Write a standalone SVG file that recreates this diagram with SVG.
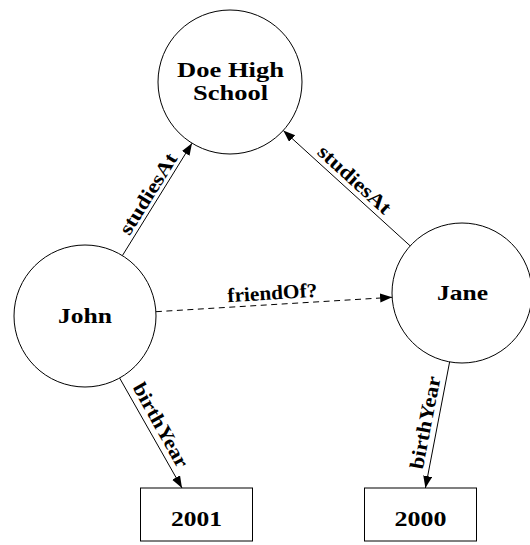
<svg xmlns="http://www.w3.org/2000/svg" width="530" height="545" viewBox="0 0 530 545">
<defs>
<style>
.node{fill:#fff;stroke:#000;stroke-width:1}
.nt{font-family:"Liberation Serif","Times New Roman",serif;font-weight:bold;font-size:22px;fill:#000;text-anchor:middle}
.et{font-family:"Liberation Serif","Times New Roman",serif;font-weight:bold;font-size:20px;fill:#000;text-anchor:middle}
.edge{fill:none;stroke:#000;stroke-width:1;marker-end:url(#arr)}
.dash{stroke-dasharray:6 4.5}
</style>
<marker id="arr" markerUnits="userSpaceOnUse" markerWidth="13" markerHeight="10" refX="12" refY="4.5" orient="auto">
<path d="M0,0 L12,4.5 L0,9 z" fill="#000"/>
</marker>
</defs>
<rect width="530" height="545" fill="#fff"/>
<g id="connectors">
<line class="edge" x1="122.4" y1="255.6" x2="192" y2="143.2"/>
<line class="edge" x1="410.2" y1="245.9" x2="283.3" y2="130.5"/>
<line class="edge dash" x1="155.9" y1="311.7" x2="392.1" y2="297.3"/>
<line class="edge" x1="119.6" y1="378" x2="182" y2="488"/>
<line class="edge" x1="449.6" y1="362" x2="425.4" y2="488"/>
<text class="et" transform="translate(157.2,199.4) rotate(-58.2)" x="0" y="-4" textLength="92" lengthAdjust="spacingAndGlyphs">studiesAt</text>
<text class="et" transform="translate(346.8,188.2) rotate(42.3)" x="0" y="-5" textLength="92" lengthAdjust="spacingAndGlyphs">studiesAt</text>
<text class="et" transform="translate(273,304.5) rotate(-3.5)" x="0" y="-5" textLength="90" lengthAdjust="spacingAndGlyphs">friendOf?</text>
<text class="et" transform="translate(150.8,433) rotate(60.8)" x="-2" y="-6" textLength="94" lengthAdjust="spacingAndGlyphs">birthYear</text>
<text class="et" transform="translate(437.5,425) rotate(-79)" x="0" y="-6" textLength="94" lengthAdjust="spacingAndGlyphs">birthYear</text>
</g>
<g id="doe">
<circle class="node" cx="230" cy="82" r="72"/>
<text class="nt" x="230.5" y="77" textLength="107" lengthAdjust="spacingAndGlyphs">Doe High</text>
<text class="nt" x="230.5" y="100" textLength="75" lengthAdjust="spacingAndGlyphs">School</text>
</g>
<g id="john">
<circle class="node" cx="85" cy="316" r="71"/>
<text class="nt" x="85" y="323" textLength="54" lengthAdjust="spacingAndGlyphs">John</text>
</g>
<g id="jane">
<circle class="node" cx="462" cy="293" r="70"/>
<text class="nt" x="462.5" y="300" textLength="51" lengthAdjust="spacingAndGlyphs">Jane</text>
</g>
<g id="y2001">
<rect class="node" x="140.5" y="488" width="112" height="53"/>
<text class="nt" x="196.5" y="526" textLength="51" lengthAdjust="spacingAndGlyphs">2001</text>
</g>
<g id="y2000">
<rect class="node" x="364.5" y="488" width="112" height="53"/>
<text class="nt" x="420.5" y="526" textLength="52" lengthAdjust="spacingAndGlyphs">2000</text>
</g>
</svg>
